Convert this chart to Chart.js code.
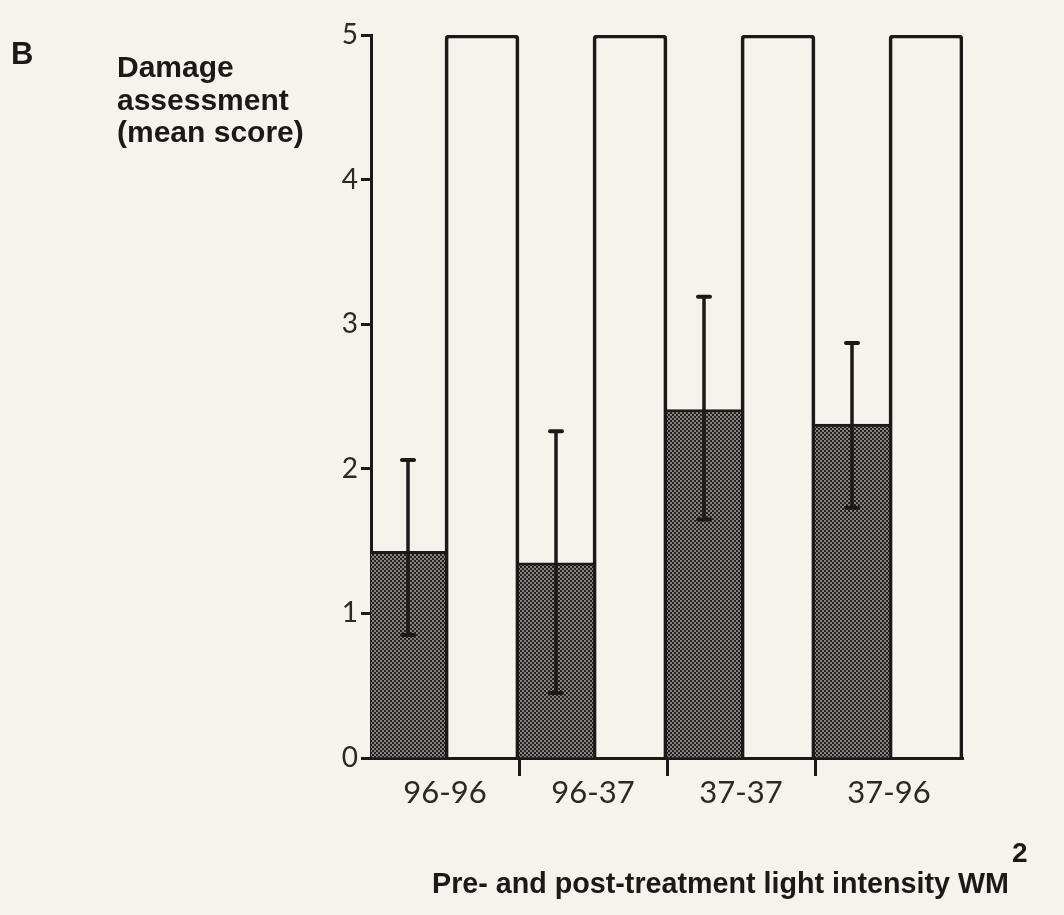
<!DOCTYPE html>
<html>
<head>
<meta charset="utf-8">
<script src="https://cdn.jsdelivr.net/npm/chart.js@4/dist/chart.umd.min.js"></script>
<style>
  html, body { margin: 0; padding: 0; background: #f4f3ec; }
  #wrap { position: relative; width: 1064px; height: 915px; }
  canvas { display: block; }
</style>
</head>
<body>
<div id="wrap"><canvas id="c" width="1064" height="915"></canvas></div>
<script>
// Treatment groups: pre- and post-treatment light intensity
const categories = ['96-96', '96-37', '37-37', '37-96'];
// Mean damage score per group
const meanScore = [1.43, 1.35, 2.41, 2.31];
// Error bar limits
const errLow  = [0.85, 0.45, 1.65, 1.73];
const errHigh = [2.06, 2.26, 3.19, 2.87];
// Maximum possible score (open columns)
const maxScore = [5, 5, 5, 5];
// Y axis ticks
const yTicks = [0, 1, 2, 3, 4, 5];

const INK = '#1b1a18';
const PAPER = '#f4f3ec';

// Dithered dark-grey fill for the mean bars
function makeScreen() {
  const t = document.createElement('canvas');
  t.width = 4; t.height = 4;
  const g = t.getContext('2d');
  g.fillStyle = '#222120';
  g.fillRect(0, 0, 4, 4);
  g.fillStyle = '#84837f';
  g.fillRect(0, 0, 2, 2);
  g.fillRect(2, 2, 2, 2);
  return document.getElementById('c').getContext('2d').createPattern(t, 'repeat');
}

const paperPlugin = {
  id: 'paper',
  beforeDraw(chart) {
    const ctx = chart.ctx;
    ctx.save();
    ctx.fillStyle = PAPER;
    ctx.fillRect(0, 0, chart.width, chart.height);
    ctx.restore();
  }
};

const errorBarPlugin = {
  id: 'errorBars',
  afterDatasetsDraw(chart) {
    const ctx = chart.ctx;
    const y = chart.scales.y;
    const meta = chart.getDatasetMeta(0);
    ctx.save();
    ctx.strokeStyle = INK;
    meta.data.forEach((bar, i) => {
      const x = bar.x;
      const yl = y.getPixelForValue(errLow[i]);
      const yh = y.getPixelForValue(errHigh[i]);
      ctx.lineCap = 'butt';
      ctx.lineWidth = 3.5;
      ctx.beginPath();
      ctx.moveTo(x, yl);
      ctx.lineTo(x, yh);
      ctx.stroke();
      ctx.lineCap = 'round';
      ctx.lineWidth = 4;
      ctx.beginPath();
      ctx.moveTo(x - 6, yh); ctx.lineTo(x + 6, yh);
      ctx.moveTo(x - 6, yl); ctx.lineTo(x + 6, yl);
      ctx.stroke();
    });
    ctx.restore();
  }
};

const textPlugin = {
  id: 'labels',
  afterDraw(chart) {
    const ctx = chart.ctx;
    ctx.save();
    ctx.fillStyle = INK;
    ctx.textBaseline = 'alphabetic';
    ctx.textAlign = 'left';
    ctx.font = 'bold 31px "Liberation Sans", Arial, sans-serif';
    ctx.fillText('B', 11, 64);
    ctx.font = 'bold 30px "Liberation Sans", Arial, sans-serif';
    ctx.fillText('Damage', 117, 77);
    ctx.fillText('assessment', 117, 110);
    ctx.fillText('(mean score)', 117, 142);
    const xt = 'Pre- and post-treatment light intensity WM';
    ctx.font = 'bold 28.7px "Liberation Sans", Arial, sans-serif';
    ctx.fillText(xt, 432, 893);
    const w = ctx.measureText(xt).width;
    ctx.font = 'bold 28px "Liberation Sans", Arial, sans-serif';
    ctx.fillText('2', 432 + w + 3, 862);
    ctx.restore();
  }
};

const screen = makeScreen();

new Chart(document.getElementById('c'), {
  type: 'bar',
  data: {
    labels: categories,
    datasets: [
      {
        label: 'Mean score',
        data: meanScore,
        backgroundColor: screen,
        borderColor: INK,
        borderWidth: { top: 3, left: 0, right: 0, bottom: 0 },
        borderSkipped: false
      },
      {
        label: 'Maximum score',
        data: maxScore,
        backgroundColor: 'rgba(0,0,0,0)',
        borderColor: INK,
        borderWidth: { top: 3, left: 3, right: 3, bottom: 0 },
        borderSkipped: false,
        borderRadius: { topLeft: 4, topRight: 4, bottomLeft: 0, bottomRight: 0 }
      }
    ]
  },
  options: {
    responsive: false,
    animation: false,
    devicePixelRatio: 1,
    layout: { padding: { top: 35, right: 101, bottom: 0, left: 0 } },
    plugins: {
      legend: { display: false },
      tooltip: { enabled: false },
      title: { display: false }
    },
    datasets: {
      bar: { categoryPercentage: 1.0, barPercentage: 1.0 }
    },
    scales: {
      x: {
        offset: true,
        afterFit(s) { s.height = 157; },
        grid: {
          offset: true,
          drawOnChartArea: false,
          drawTicks: true,
          tickLength: 18,
          tickWidth: 3,
          tickColor: (c) => (c.index > 0 && c.index < categories.length) ? INK : 'rgba(0,0,0,0)'
        },
        border: { display: true, color: INK, width: 3 },
        ticks: {
          color: '#2a2926',
          font: { family: 'Lato, "DejaVu Sans", sans-serif', size: 31 },
          padding: -2
        }
      },
      y: {
        min: 0,
        max: 5,
        afterFit(s) { s.width = 371; },
        afterBuildTicks(s) { s.ticks = yTicks.map(v => ({ value: v })); },
        grid: {
          drawOnChartArea: false,
          drawTicks: true,
          tickLength: 10,
          tickWidth: 3,
          tickColor: INK
        },
        border: { display: true, color: INK, width: 3 },
        ticks: {
          color: '#2a2926',
          font: { family: 'Lato, "DejaVu Sans", sans-serif', size: 28 },
          padding: 3
        }
      }
    }
  },
  plugins: [paperPlugin, errorBarPlugin, textPlugin]
});
</script>
</body>
</html>
